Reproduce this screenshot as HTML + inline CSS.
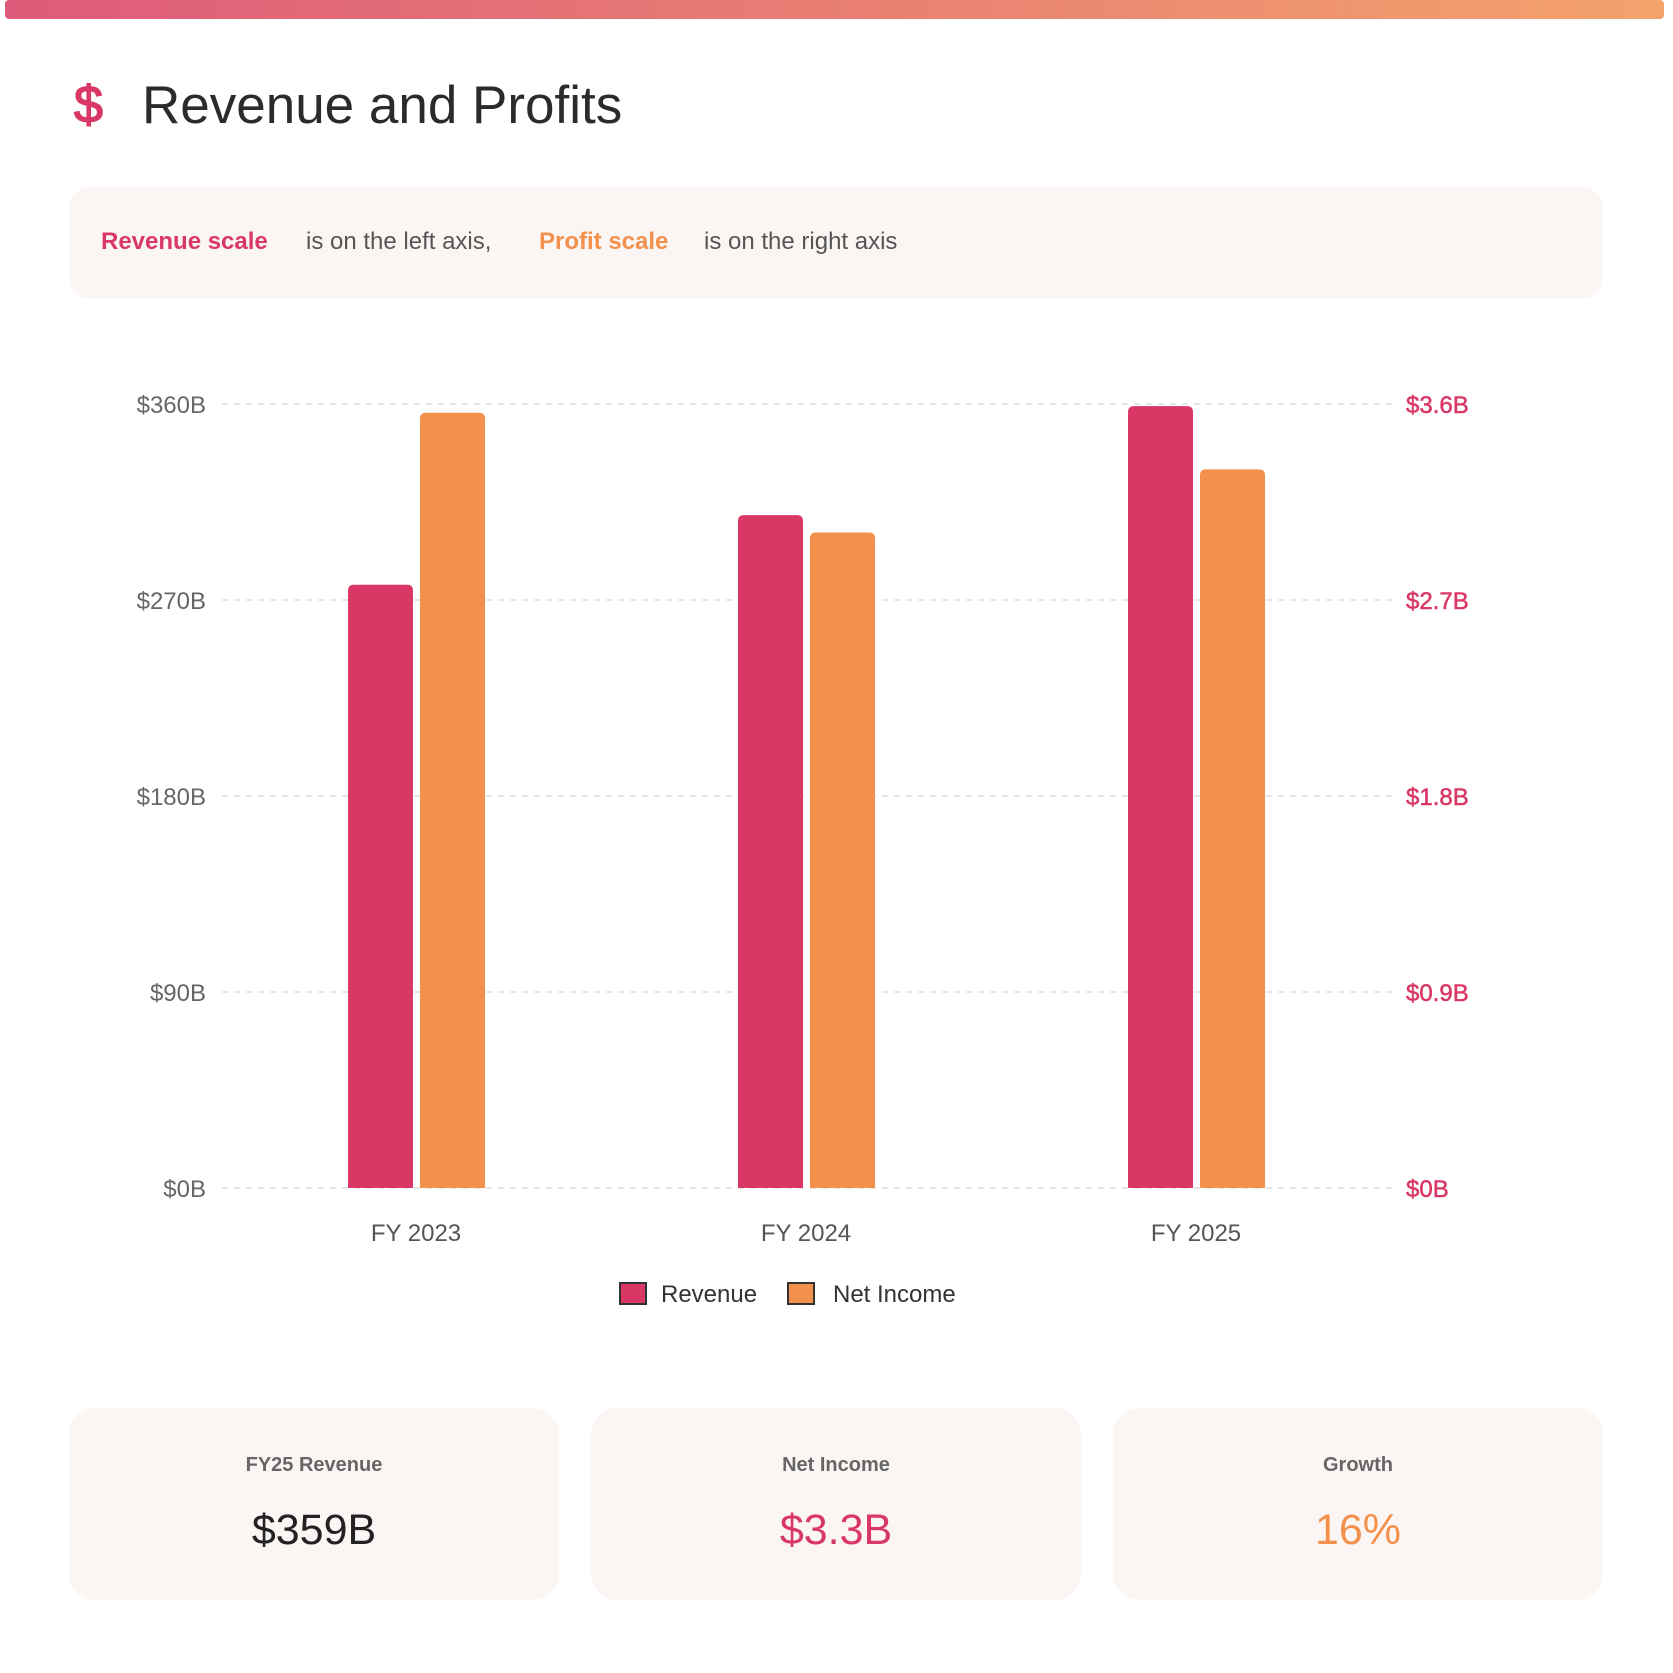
<!DOCTYPE html>
<html><head><meta charset="utf-8"><style>
html,body{margin:0;padding:0;background:#fff;width:1673px;height:1673px;overflow:hidden;font-family:"Liberation Sans",sans-serif}
</style></head><body>
<svg width="1673" height="1673" viewBox="0 0 1673 1673" xmlns="http://www.w3.org/2000/svg">
<defs><linearGradient id="tg" x1="0" x2="1" y1="0" y2="0"><stop offset="0" stop-color="#de5a7a"/><stop offset="1" stop-color="#f3a36c"/></linearGradient></defs>
<rect x="5" y="0" width="1659" height="19" rx="4" fill="url(#tg)"/>
<text x="74" y="122" font-size="52" fill="#d93866" stroke="#d93866" stroke-width="1.5" font-family="Liberation Sans">$</text>
<text x="142" y="123" font-size="53" fill="#2b2b2b">Revenue and Profits</text>
<rect x="69" y="187" width="1534" height="112" rx="22" fill="#fbf6f3"/>
<text y="249" font-size="24"><tspan x="101" fill="#d93866" font-weight="bold">Revenue scale</tspan><tspan x="306" fill="#555">is on the left axis,</tspan><tspan x="539" fill="#f2904c" font-weight="bold">Profit scale</tspan><tspan x="704" fill="#555">is on the right axis</tspan></text>
<g id="chart"></g>
<g>
<rect x="620" y="1283" width="26" height="21" fill="#d93866" stroke="#333" stroke-width="2"/>
<text x="661" y="1302" font-size="24" fill="#333">Revenue</text>
<rect x="788" y="1283" width="26" height="21" fill="#f2904c" stroke="#333" stroke-width="2"/>
<text x="833" y="1302" font-size="24" fill="#333">Net Income</text>
</g>
<g>
<rect x="69" y="1408" width="490" height="192" rx="26" fill="#fbf6f3"/>
<text x="314" y="1471" font-size="20" font-weight="bold" fill="#666" text-anchor="middle">FY25 Revenue</text>
<text x="314" y="1544" font-size="43" fill="#222" text-anchor="middle">$359B</text>
</g>
<g>
<rect x="591" y="1408" width="490" height="192" rx="26" fill="#fbf6f3"/>
<text x="836" y="1471" font-size="20" font-weight="bold" fill="#666" text-anchor="middle">Net Income</text>
<text x="836" y="1544" font-size="43" fill="#d93866" text-anchor="middle">$3.3B</text>
</g>
<g>
<rect x="1113" y="1408" width="490" height="192" rx="26" fill="#fbf6f3"/>
<text x="1358" y="1471" font-size="20" font-weight="bold" fill="#666" text-anchor="middle">Growth</text>
<text x="1358" y="1544" font-size="43" fill="#f2904c" text-anchor="middle">16%</text>
</g>
</svg>
<script>
const categories = ["FY 2023", "FY 2024", "FY 2025"];
const revenue = [277, 309, 359];
const netIncome = [3.56, 3.01, 3.30];
const leftTicks = [0, 90, 180, 270, 360];
const rightTicks = [0, 0.9, 1.8, 2.7, 3.6];
const leftMax = 360, rightMax = 3.6;

const NS = "http://www.w3.org/2000/svg";
const g = document.getElementById("chart");
const plotL = 221, plotR = 1391, yTop = 404, yBot = 1188;
const band = (plotR - plotL) / categories.length;
const xC = i => plotL + band * (i + 0.5);
const yL = v => yBot - v / leftMax * (yBot - yTop);
const yR = v => yBot - v / rightMax * (yBot - yTop);
function mk(tag, attrs) { const e = document.createElementNS(NS, tag); for (const k in attrs) e.setAttribute(k, attrs[k]); g.appendChild(e); return e; }

leftTicks.forEach((t, i) => {
  const y = yL(t);
  const ln = mk("line", {x1: 222, x2: 1395, y1: y, y2: y, stroke: "#e6e6e6", "stroke-width": 2, "stroke-dasharray": "6 6"});
  
  
  const tx = mk("text", {x: 206, y: y + 9, "font-size": 24, fill: "#666", "text-anchor": "end"});
  tx.textContent = "$" + t + "B";
  
  
});
rightTicks.forEach(t => {
  const y = yR(t);
  const tx = mk("text", {x: 1406, y: y + 9, "font-size": 24, fill: "#d93866", stroke: "#d93866", "stroke-width": 0.5});
  tx.textContent = "$" + (t === 0 ? "0" : t.toFixed(1)) + "B";
  
  
});
categories.forEach((c, i) => {
  const cx = xC(i);
  const r = mk("path", {d: bar(cx - 68, yL(revenue[i]), 65), fill: "#d93866"});
  
  
  const n = mk("path", {d: bar(cx + 4, yR(netIncome[i]), 65), fill: "#f2904c"});
  
  
  const tx = mk("text", {x: cx, y: 1241, "font-size": 24, fill: "#555", "text-anchor": "middle"});
  tx.textContent = c;
  
  
});
function bar(x, y, w) {
  const r = 6;
  return `M${x},${yBot} V${y + r} Q${x},${y} ${x + r},${y} H${x + w - r} Q${x + w},${y} ${x + w},${y + r} V${yBot} Z`;
}
</script>
</body></html>
